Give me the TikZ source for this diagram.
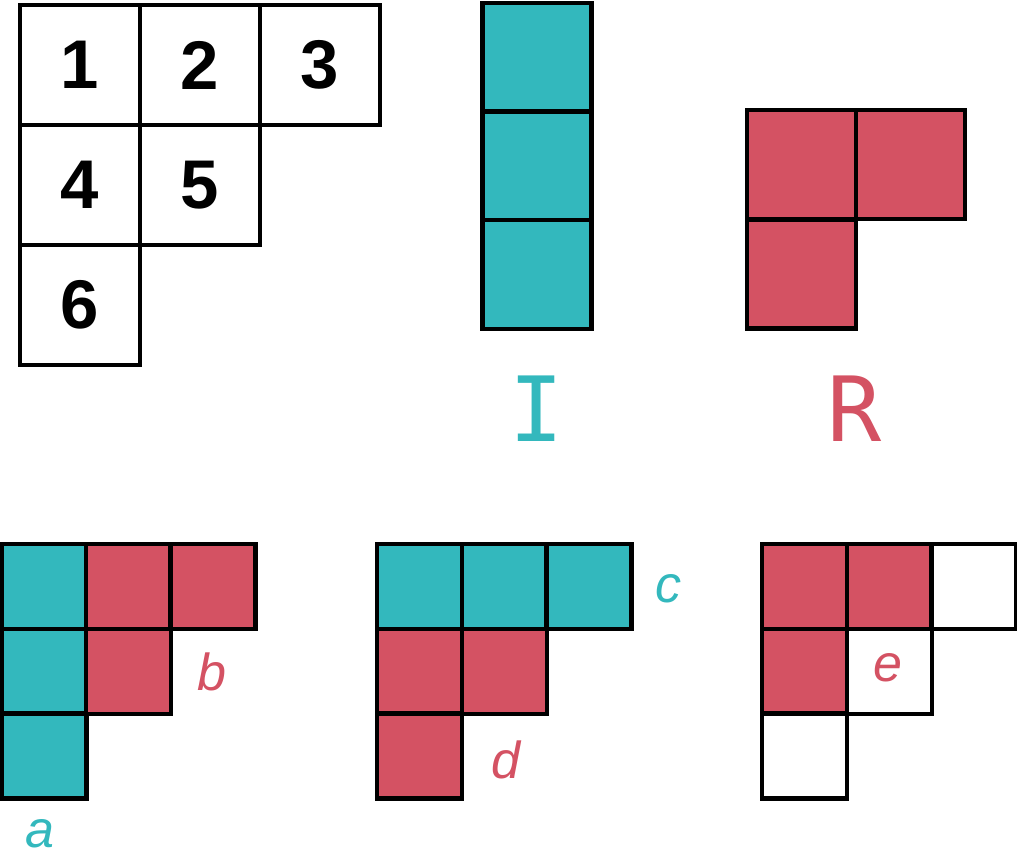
\documentclass[tikz,border=0pt]{standalone}
\usepackage{fontspec}
\setmainfont{Liberation Sans}
\newfontfamily\glyphfont{DejaVu Sans Mono}
\definecolor{tealI}{HTML}{33B8BD}
\definecolor{redR}{HTML}{D45263}

\begin{document}
\begin{tikzpicture}[x=0.025cm, y=-0.025cm,
cell/.style={draw=black, line width=3.2pt, inner sep=0pt, minimum size=#1},
numcell/.style={cell=3cm, font=\fontsize{49}{49}\selectfont\bfseries},
small/.style={cell=2.125cm},
pieceLabel/.style={font=\glyphfont\fontsize{64}{64}\selectfont},
shapeLabel/.style={font=\fontsize{37}{37}\selectfont\itshape}]
\useasboundingbox (0,0) rectangle (1017,853);
% numbered staircase
\foreach \n/\cx/\cy in {1/80/65, 2/200/65, 3/320/65, 4/80/185, 5/200/185, 6/80/305} {
  \node [numcell, fill=white] (num\n) at (\cx, \cy) {\n};
}
% the two pieces
\foreach \k/\cy in {1/57.5, 2/166, 3/274.5} {
  \node [cell=2.725cm, fill=tealI] (pieceI\k) at (537, \cy) {};
}
\foreach \k/\cx/\cy in {1/801.5/164.5, 2/910.5/164.5, 3/801.5/274} {
  \node [cell=2.725cm, fill=redR] (pieceR\k) at (\cx, \cy) {};
}
\node [pieceLabel, text=tealI] (labI) at (537, 409) {I};
\node [pieceLabel, text=redR] (labR) at (855, 409) {R};
% fillings
\foreach \name/\cx/\cy/\col in {
  a1/44/586.5/tealI, a2/44/671.5/tealI, a3/44/756/tealI,
  a4/128.5/586.5/redR, a5/213/586.5/redR, a6/128.5/671.5/redR,
  c1/419.5/586.5/tealI, c2/504.5/586.5/tealI, c3/589/586.5/tealI,
  c4/419.5/671.5/redR, c5/504.5/671.5/redR, c6/419.5/756/redR,
  e1/804.5/586.5/redR, e2/889.5/586.5/redR, e3/974/586.5/white,
  e4/804.5/671.5/redR, e5/889.5/671.5/white, e6/804.5/756/white%
} {
  \node [small, fill=\col] (fill\name) at (\cx, \cy) {};
}
\foreach \t/\cx/\cy/\col in {a/40/834/tealI, b/212/672/redR, c/668/589/tealI, d/506/760/redR, e/888/668/redR} {
  \node [shapeLabel, text=\col] (lab\t) at (\cx, \cy) {\t};
}
\end{tikzpicture}
\end{document}
